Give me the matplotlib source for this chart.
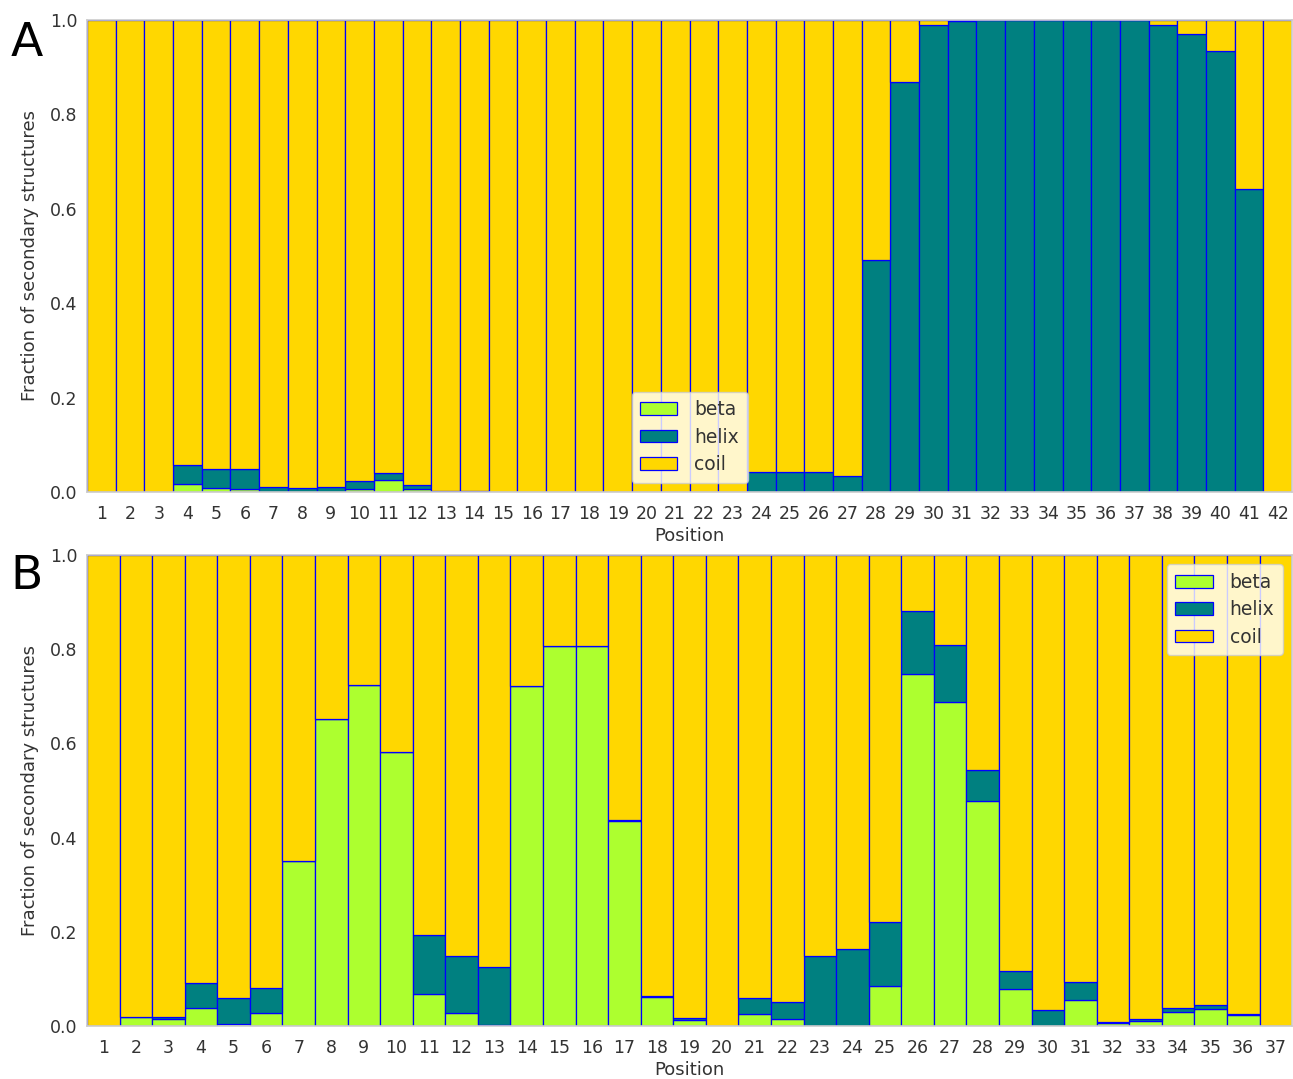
import numpy as np
import matplotlib
matplotlib.use("Agg")
import matplotlib.pyplot as plt

# Panel A data (positions 1..42)
beta_A = [0, 0, 0, 0.017, 0.009, 0.007, 0, 0, 0, 0.007, 0.025, 0.007, 0, 0,
          0, 0, 0, 0, 0, 0, 0, 0, 0, 0, 0, 0, 0, 0,
          0, 0, 0, 0, 0, 0, 0, 0, 0, 0, 0, 0, 0, 0]
helix_A = [0, 0, 0, 0.040, 0.040, 0.042, 0.011, 0.008, 0.011, 0.017, 0.015, 0.008, 0.003, 0.003,
           0, 0, 0, 0, 0, 0, 0, 0, 0, 0.043, 0.043, 0.043, 0.035, 0.491,
           0.869, 0.989, 0.998, 1.0, 1.0, 1.0, 1.0, 1.0, 1.0, 0.990, 0.970, 0.934, 0.642, 0]

# Panel B data (positions 1..37)
beta_B = [0, 0.020, 0.014, 0.038, 0.005, 0.027, 0.350, 0.652, 0.724, 0.582, 0.068, 0.027,
          0.002, 0.722, 0.807, 0.807, 0.435, 0.062, 0.012, 0, 0.026, 0.015, 0.001, 0.001,
          0.086, 0.747, 0.689, 0.478, 0.079, 0, 0.055, 0.006, 0.010, 0.029, 0.037, 0.023, 0]
helix_B = [0, 0, 0.006, 0.053, 0.054, 0.053, 0, 0, 0, 0, 0.125, 0.122,
           0.124, 0, 0, 0, 0.003, 0.002, 0.004, 0, 0.033, 0.037, 0.148, 0.162,
           0.135, 0.134, 0.121, 0.065, 0.038, 0.034, 0.039, 0.003, 0.005, 0.010, 0.008, 0.002, 0]

categories = ["beta", "helix", "coil"]
colors = ["greenyellow", "teal", "gold"]

plt.rcParams["font.family"] = "DejaVu Sans"

fig = plt.figure(figsize=(12.93, 10.79), dpi=100)
axA = fig.add_axes([0.0673, 0.544, 0.932, 0.4375])
axB = fig.add_axes([0.0673, 0.0491, 0.932, 0.4365])


def draw(ax, beta, helix, legend_loc):
    beta = np.array(beta)
    helix = np.array(helix)
    coil = 1 - beta - helix
    x = np.arange(1, len(beta) + 1)
    ax.bar(x, beta, width=1.0, color=colors[0], edgecolor="blue", linewidth=0.9, label=categories[0])
    ax.bar(x, helix, width=1.0, bottom=beta, color=colors[1], edgecolor="blue", linewidth=0.9, label=categories[1])
    ax.bar(x, coil, width=1.0, bottom=beta + helix, color=colors[2], edgecolor="blue", linewidth=0.9, label=categories[2])
    ax.set_xlim(0.5, len(beta) + 0.5)
    ax.set_ylim(0, 1.0)
    ax.set_xticks(x)
    ax.set_xticklabels([str(i) for i in x])
    ax.set_yticks([0, 0.2, 0.4, 0.6, 0.8, 1.0])
    ax.set_yticklabels(["0.0", "0.2", "0.4", "0.6", "0.8", "1.0"])
    ax.tick_params(axis="x", length=0, labelsize=12.5, colors="#333333", pad=9)
    ax.tick_params(axis="y", length=0, labelsize=12.5, colors="#333333", pad=7)
    for s in ax.spines.values():
        s.set_color("#cccccc")
        s.set_linewidth(1.2)
    ax.set_xlabel("Position", fontsize=13, color="#333333", labelpad=3)
    ax.set_ylabel("Fraction of secondary structures", fontsize=13, color="#333333", labelpad=8)
    leg = ax.legend(loc=legend_loc, fontsize=13.5, framealpha=0.8, edgecolor="#cccccc",
                    handlelength=2.0, handleheight=0.65, borderpad=0.45, labelspacing=0.45,
                    handletextpad=0.9)
    for t in leg.get_texts():
        t.set_color("#333333")


draw(axA, beta_A, helix_A, "lower center")
draw(axB, beta_B, helix_B, "upper right")

fig.text(0.008, 0.948, "A", fontsize=34, color="black")
fig.text(0.008, 0.454, "B", fontsize=34, color="black")

fig.savefig("out.png", dpi=100)
